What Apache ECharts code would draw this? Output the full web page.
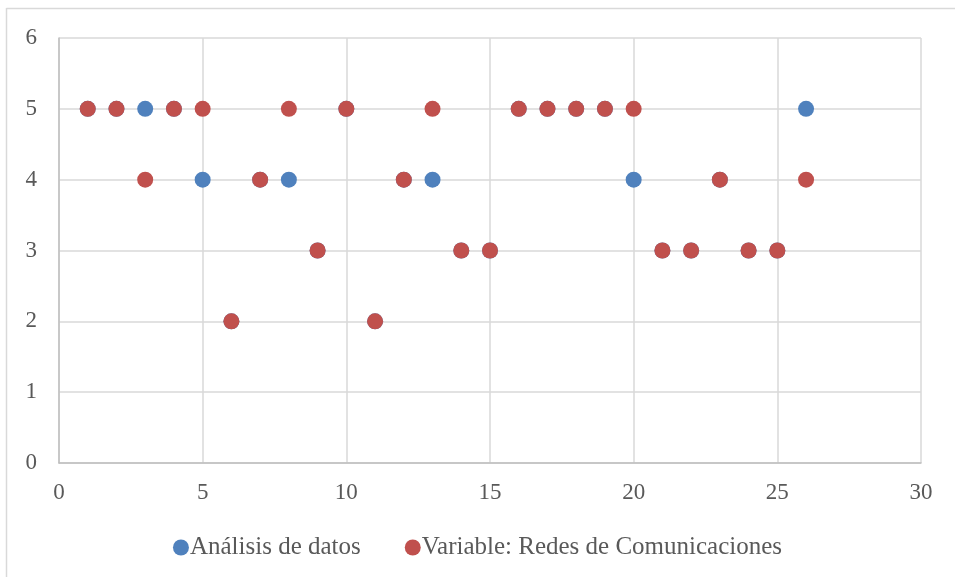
<!DOCTYPE html>
<html>
<head>
<meta charset="utf-8">
<script src="https://cdn.jsdelivr.net/npm/echarts@6/dist/echarts.min.js"></script>
<style>html,body{margin:0;padding:0;background:#fff}#c{width:955px;height:577px}</style>
</head>
<body>
<div id="c"></div>
<script>
const xValues = [1,2,3,4,5,6,7,8,9,10,11,12,13,14,15,16,17,18,19,20,21,22,23,24,25,26];
const analisisDatos = [5,5,5,5,4,2,4,4,3,5,2,4,4,3,3,5,5,5,5,4,3,3,4,3,3,5];
const redesComunicaciones = [5,5,4,5,5,2,4,5,3,5,2,4,5,3,3,5,5,5,5,5,3,3,4,3,3,4];
const seriesNames = ['Análisis de datos', 'Variable: Redes de Comunicaciones'];

const font = 'Liberation Serif, Cambria, serif';
const chart = echarts.init(document.getElementById('c'));
chart.setOption({
  animation: false,
  color: ['#4f81bd', '#c0504d'],
  grid: {left: 59, right: 34, top: 38, bottom: 114, containLabel: false},
  xAxis: {
    type: 'value', min: 0, max: 30, interval: 5,
    axisLine: {show: true, lineStyle: {color: '#bfbfbf', width: 1.5}},
    axisTick: {show: false},
    splitLine: {show: true, lineStyle: {color: '#d9d9d9', width: 1.5}},
    axisLabel: {color: '#595959', fontFamily: font, fontSize: 23, margin: 18}
  },
  yAxis: {
    type: 'value', min: 0, max: 6, interval: 1,
    axisLine: {show: true, lineStyle: {color: '#bfbfbf', width: 1.5}},
    axisTick: {show: false},
    splitLine: {show: true, lineStyle: {color: '#d9d9d9', width: 1.5}},
    axisLabel: {color: '#595959', fontFamily: font, fontSize: 23, margin: 22}
  },
  legend: {
    bottom: 12, left: 'center', itemGap: 44, itemWidth: 16, itemHeight: 16,
    icon: 'circle',
    textStyle: {color: '#595959', fontFamily: font, fontSize: 25, padding: [0,0,0,-4]},
    data: seriesNames
  },
  graphic: [
    {type: 'line', shape: {x1: 6.5, y1: 8, x2: 6.5, y2: 577}, style: {stroke: '#d9d9d9', lineWidth: 1.5}},
    {type: 'line', shape: {x1: 6.5, y1: 8.5, x2: 955, y2: 8.5}, style: {stroke: '#d9d9d9', lineWidth: 1.5}}
  ],
  series: [
    {name: seriesNames[0], type: 'scatter', symbolSize: 16, itemStyle: {opacity: 1},
     data: xValues.map((x, i) => [x, analisisDatos[i]])},
    {name: seriesNames[1], type: 'scatter', symbolSize: 16, itemStyle: {opacity: 1},
     data: xValues.map((x, i) => [x, redesComunicaciones[i]])}
  ]
});
</script>
</body>
</html>
